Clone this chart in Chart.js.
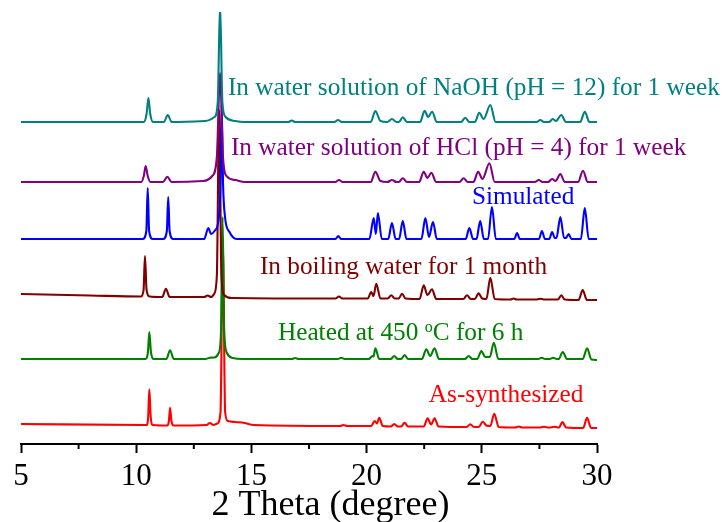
<!DOCTYPE html>
<html>
<head>
<meta charset="utf-8">
<script src="https://cdn.jsdelivr.net/npm/chart.js@4.4.1/dist/chart.umd.min.js"></script>
<style>
  html, body { margin: 0; padding: 0; background: #fff; }
  #wrap { width: 724px; height: 522px; position: relative; }
</style>
</head>
<body>
<div id="wrap"><canvas id="xrdChart"></canvas></div>
<script>
// 2 theta (degree) vs stacked intensity (offset units)
const naohPattern = [
  [5, 322], [10.33, 322], [10.45, 330], [10.53, 346], [10.61, 330], [10.73, 322],
  [11.2, 322], [11.37, 329], [11.54, 322],
  [13.0, 323], [13.4, 327], [13.54, 342], [13.64, 440], [13.74, 342], [13.88, 327], [14.3, 323], [14.7, 322],
  [16.6, 322], [16.75, 323.5], [16.9, 322],
  [18.6, 322], [18.76, 324], [18.92, 322],
  [20.18, 322], [20.38, 333], [20.6, 323], [20.9, 322], [21.1, 325], [21.3, 322], [21.4, 322], [21.57, 326.7], [21.75, 322],
  [22.32, 322], [22.52, 333.3], [22.67, 327], [22.84, 332.3], [23.05, 322],
  [24.1, 322], [24.28, 326.3], [24.46, 322], [24.7, 322], [24.89, 331.3], [25.08, 325], [25.37, 339], [25.6, 322],
  [27.38, 322], [27.54, 324], [27.7, 322], [27.92, 322], [28.08, 325], [28.22, 323], [28.45, 329], [28.65, 322],
  [29.27, 322], [29.47, 332.3], [29.67, 322], [30, 322]
]
const hclPattern = [
  [5, 262], [10.22, 262], [10.33, 268], [10.41, 278], [10.5, 268], [10.62, 262],
  [11.17, 262], [11.35, 267.3], [11.53, 262],
  [12.9, 263], [13.3, 268], [13.5, 287], [13.64, 371], [13.76, 290], [13.92, 268], [14.3, 264], [14.7, 262],
  [18.64, 262], [18.8, 264], [18.96, 262],
  [20.18, 262], [20.38, 272.3], [20.6, 263], [20.9, 262], [21.1, 264], [21.3, 262], [21.4, 262], [21.57, 265.7], [21.75, 262],
  [22.28, 262], [22.48, 272.3], [22.64, 266], [22.81, 271.3], [23.02, 262],
  [24.03, 262], [24.21, 265.7], [24.39, 262], [24.64, 262], [24.84, 272.3], [25.03, 265], [25.33, 280.7], [25.56, 262],
  [27.3, 262], [27.47, 264], [27.64, 262], [27.88, 262], [28.05, 265], [28.2, 263], [28.41, 270], [28.6, 262],
  [29.18, 262], [29.39, 273.3], [29.6, 262], [30, 262]
]
const simulatedPattern = [
  [5, 205], [10.28, 205], [10.44, 213], [10.5, 256], [10.56, 213], [10.72, 205],
  [11.17, 205], [11.33, 213], [11.39, 247], [11.45, 213], [11.61, 205],
  [12.95, 205], [13.13, 216], [13.25, 210], [13.4, 213], [13.58, 225], [13.66, 260], [13.71, 339], [13.77, 260], [13.86, 226], [14.05, 212], [14.35, 205],
  [18.65, 205], [18.77, 208], [18.89, 205],
  [20.12, 205], [20.31, 226], [20.4, 210], [20.49, 231], [20.66, 205],
  [20.94, 205], [21.1, 221], [21.26, 205], [21.41, 205], [21.57, 223], [21.73, 205],
  [22.38, 205], [22.55, 226], [22.71, 207], [22.88, 222], [23.05, 205],
  [24.3, 205], [24.46, 216], [24.62, 205], [24.77, 205], [24.93, 223], [25.09, 205], [25.27, 205], [25.44, 237], [25.61, 205],
  [26.41, 205], [26.53, 211], [26.65, 205],
  [27.48, 205], [27.61, 213], [27.74, 205], [27.93, 205], [28.05, 212], [28.17, 206], [28.24, 206], [28.41, 227], [28.57, 206],
  [28.65, 206], [28.77, 210], [28.89, 205],
  [29.3, 205], [29.47, 236], [29.64, 205], [30, 205]
]
const boilingPattern = [
  [5, 150], [8, 148.5], [10.2, 147.5], [10.32, 154], [10.38, 188], [10.45, 154], [10.58, 147.5],
  [11.13, 147], [11.29, 155.3], [11.45, 147],
  [12.95, 147], [13.1, 148.5], [13.25, 147], [13.38, 150], [13.5, 168], [13.6, 334], [13.7, 168], [13.82, 149], [14.15, 146],
  [18.65, 145.5], [18.8, 147.5], [18.95, 145.5],
  [20.05, 145.5], [20.2, 152], [20.3, 148], [20.42, 160.3], [20.6, 145.5],
  [20.92, 145.5], [21.07, 148.7], [21.22, 145.5], [21.39, 145.5], [21.54, 150.3], [21.69, 145.5],
  [22.3, 145], [22.48, 158.7], [22.64, 149], [22.84, 154.7], [23.02, 145],
  [24.2, 145], [24.36, 148.7], [24.52, 145], [24.7, 145], [24.86, 150.7], [25.02, 145.5], [25.2, 145], [25.37, 166.3], [25.56, 145],
  [26.25, 144.5], [26.38, 145.5], [26.51, 144.5], [27.4, 144.5], [27.54, 145.3], [27.68, 144.5],
  [28.3, 144.5], [28.45, 148.7], [28.6, 144.5], [29.2, 144], [29.38, 154], [29.56, 144], [30, 144]
]
const heatedPattern = [
  [5, 85], [10.4, 85], [10.51, 92], [10.57, 112], [10.64, 92], [10.76, 85],
  [11.31, 85], [11.47, 93.7], [11.63, 85],
  [13.0, 85], [13.2, 86.3], [13.4, 86.5], [13.58, 91], [13.68, 112], [13.75, 227], [13.82, 112], [13.94, 91], [14.2, 86], [14.6, 85],
  [16.75, 85], [16.9, 86], [17.05, 85], [18.75, 85], [18.9, 86.3], [19.05, 85],
  [20.1, 85], [20.25, 88], [20.3, 87.5], [20.38, 95.7], [20.55, 85],
  [21.05, 85], [21.2, 88], [21.35, 85], [21.5, 85], [21.65, 89], [21.8, 85],
  [22.4, 85], [22.59, 94.7], [22.76, 88], [22.95, 95.7], [23.14, 85],
  [24.27, 85], [24.43, 88], [24.59, 85], [24.8, 85], [24.98, 93], [25.15, 87], [25.35, 87], [25.52, 101.3], [25.72, 85],
  [27.45, 85], [27.6, 86.3], [27.75, 85], [27.95, 85], [28.1, 86.3], [28.25, 85], [28.34, 85], [28.51, 92], [28.7, 85],
  [29.38, 85], [29.57, 95.7], [29.76, 84.5], [30, 84]
]
const asSynthPattern = [
  [5, 20], [10.3, 19], [10.45, 19], [10.52, 27], [10.57, 54.7], [10.63, 27], [10.72, 19],
  [11.35, 18.5], [11.42, 23], [11.47, 36.3], [11.53, 23], [11.62, 18.5],
  [13.05, 19], [13.2, 21], [13.35, 19], [13.52, 20.5], [13.66, 32], [13.76, 199], [13.86, 32], [13.98, 23], [14.3, 22], [14.7, 21], [15.1, 19],
  [18.85, 18], [19.0, 19], [19.15, 18],
  [20.2, 18], [20.35, 23], [20.45, 20.5], [20.55, 26.3], [20.7, 18],
  [21.05, 17.5], [21.2, 20], [21.35, 17.5], [21.5, 17.5], [21.65, 21.3], [21.8, 17.5],
  [22.48, 17.5], [22.65, 25.7], [22.8, 19.5], [22.95, 25.7], [23.12, 17.5],
  [24.34, 17], [24.5, 19.7], [24.66, 17], [24.87, 17], [25.04, 22.3], [25.2, 18.5], [25.37, 18], [25.54, 30.3], [25.73, 17],
  [26.45, 16.5], [26.6, 17.5], [26.75, 16.5], [27.55, 16.5], [27.7, 17.3], [27.85, 16.5], [28.0, 16.5], [28.15, 17.3], [28.3, 16.5],
  [28.35, 16.5], [28.5, 22], [28.66, 16.5], [29.4, 16], [29.57, 26.3], [29.74, 16], [30, 16]
]

const seriesNames = [
  "In water solution of NaOH (pH = 12) for 1 week",
  "In water solution of HCl (pH = 4) for 1 week",
  "Simulated",
  "In boiling water for 1 month",
  "Heated at 450 \u00baC for 6 h",
  "As-synthesized"
]
const seriesColors = ["#008080", "#800080", "#0000ff", "#800000", "#008000", "#ff0000"]
const minorTicks = [7.5, 12.5, 17.5, 22.5, 27.5]
const axisTitle = "2 Theta (degree)"

// where each curve label sits: [left 2theta, baseline in offset units]
const labelAnchors = [[13.98, 349.5], [14.11, 289], [24.57, 240], [15.37, 170], [16.15, 104], [22.7, 42.3]]

const serif = "'Liberation Serif', 'Times New Roman', serif"

const axisExtrasPlugin = {
  id: "axisExtras",
  afterDraw(chart) {
    const { ctx, chartArea, scales } = chart
    ctx.save()
    ctx.strokeStyle = "#000"
    ctx.lineWidth = 2
    minorTicks.forEach((v) => {
      const px = scales.x.getPixelForValue(v)
      ctx.beginPath()
      ctx.moveTo(px, chartArea.bottom)
      ctx.lineTo(px, chartArea.bottom + 5)
      ctx.stroke()
    })
    // axis title, sits a little right of the axis centre in the original
    ctx.fillStyle = "#000"
    ctx.font = `36px ${serif}`
    ctx.textAlign = "center"
    ctx.textBaseline = "alphabetic"
    ctx.fillText(axisTitle, 330.5, 515)
    ctx.restore()
  }
}

const curveLabelPlugin = {
  id: "curveLabels",
  afterDatasetsDraw(chart) {
    const { ctx, scales } = chart
    const size = 25.3
    ctx.save()
    ctx.textBaseline = "alphabetic"
    ctx.textAlign = "left"
    seriesNames.forEach((name, i) => {
      const x = scales.x.getPixelForValue(labelAnchors[i][0])
      const y = scales.y.getPixelForValue(labelAnchors[i][1])
      ctx.fillStyle = seriesColors[i]
      ctx.font = `${size}px ${serif}`
      if (name.includes("\u00ba")) {
        const [before, after] = name.split("\u00ba")
        ctx.fillText(before, x, y)
        let cx = x + ctx.measureText(before).width
        ctx.font = `16px ${serif}`
        ctx.fillText("o", cx, y - 8)
        cx += ctx.measureText("o").width
        ctx.font = `${size}px ${serif}`
        ctx.fillText(after, cx, y)
      } else {
        ctx.fillText(name, x, y)
      }
    })
    ctx.restore()
  }
}

const patterns = [naohPattern, hclPattern, simulatedPattern, boilingPattern, heatedPattern, asSynthPattern]

new Chart(document.getElementById("xrdChart"), {
  type: "line",
  data: {
    datasets: patterns.map((pts, i) => ({
      label: seriesNames[i],
      data: pts,
      borderColor: seriesColors[i],
      borderWidth: 2.1,
      pointRadius: 0,
      fill: false,
      cubicInterpolationMode: "monotone"
    }))
  },
  options: {
    responsive: true,
    maintainAspectRatio: false,
    animation: false,
    layout: { padding: { top: 12, right: 127, left: 21, bottom: 0 } },
    plugins: {
      legend: { display: false },
      tooltip: { enabled: false }
    },
    scales: {
      x: {
        type: "linear",
        min: 5,
        max: 30,
        afterFit(scale) { scale.height = 78 },
        border: { display: true, color: "#000", width: 2 },
        grid: { drawOnChartArea: false, drawTicks: true, tickLength: 9, tickColor: "#000", tickWidth: 2 },
        ticks: {
          stepSize: 5,
          autoSkip: false,
          maxRotation: 0,
          padding: 5,
          color: "#000",
          font: { family: serif, size: 31 }
        }
      },
      y: {
        display: false,
        min: 0,
        max: 432
      }
    }
  },
  plugins: [axisExtrasPlugin, curveLabelPlugin]
})
</script>
</body>
</html>
